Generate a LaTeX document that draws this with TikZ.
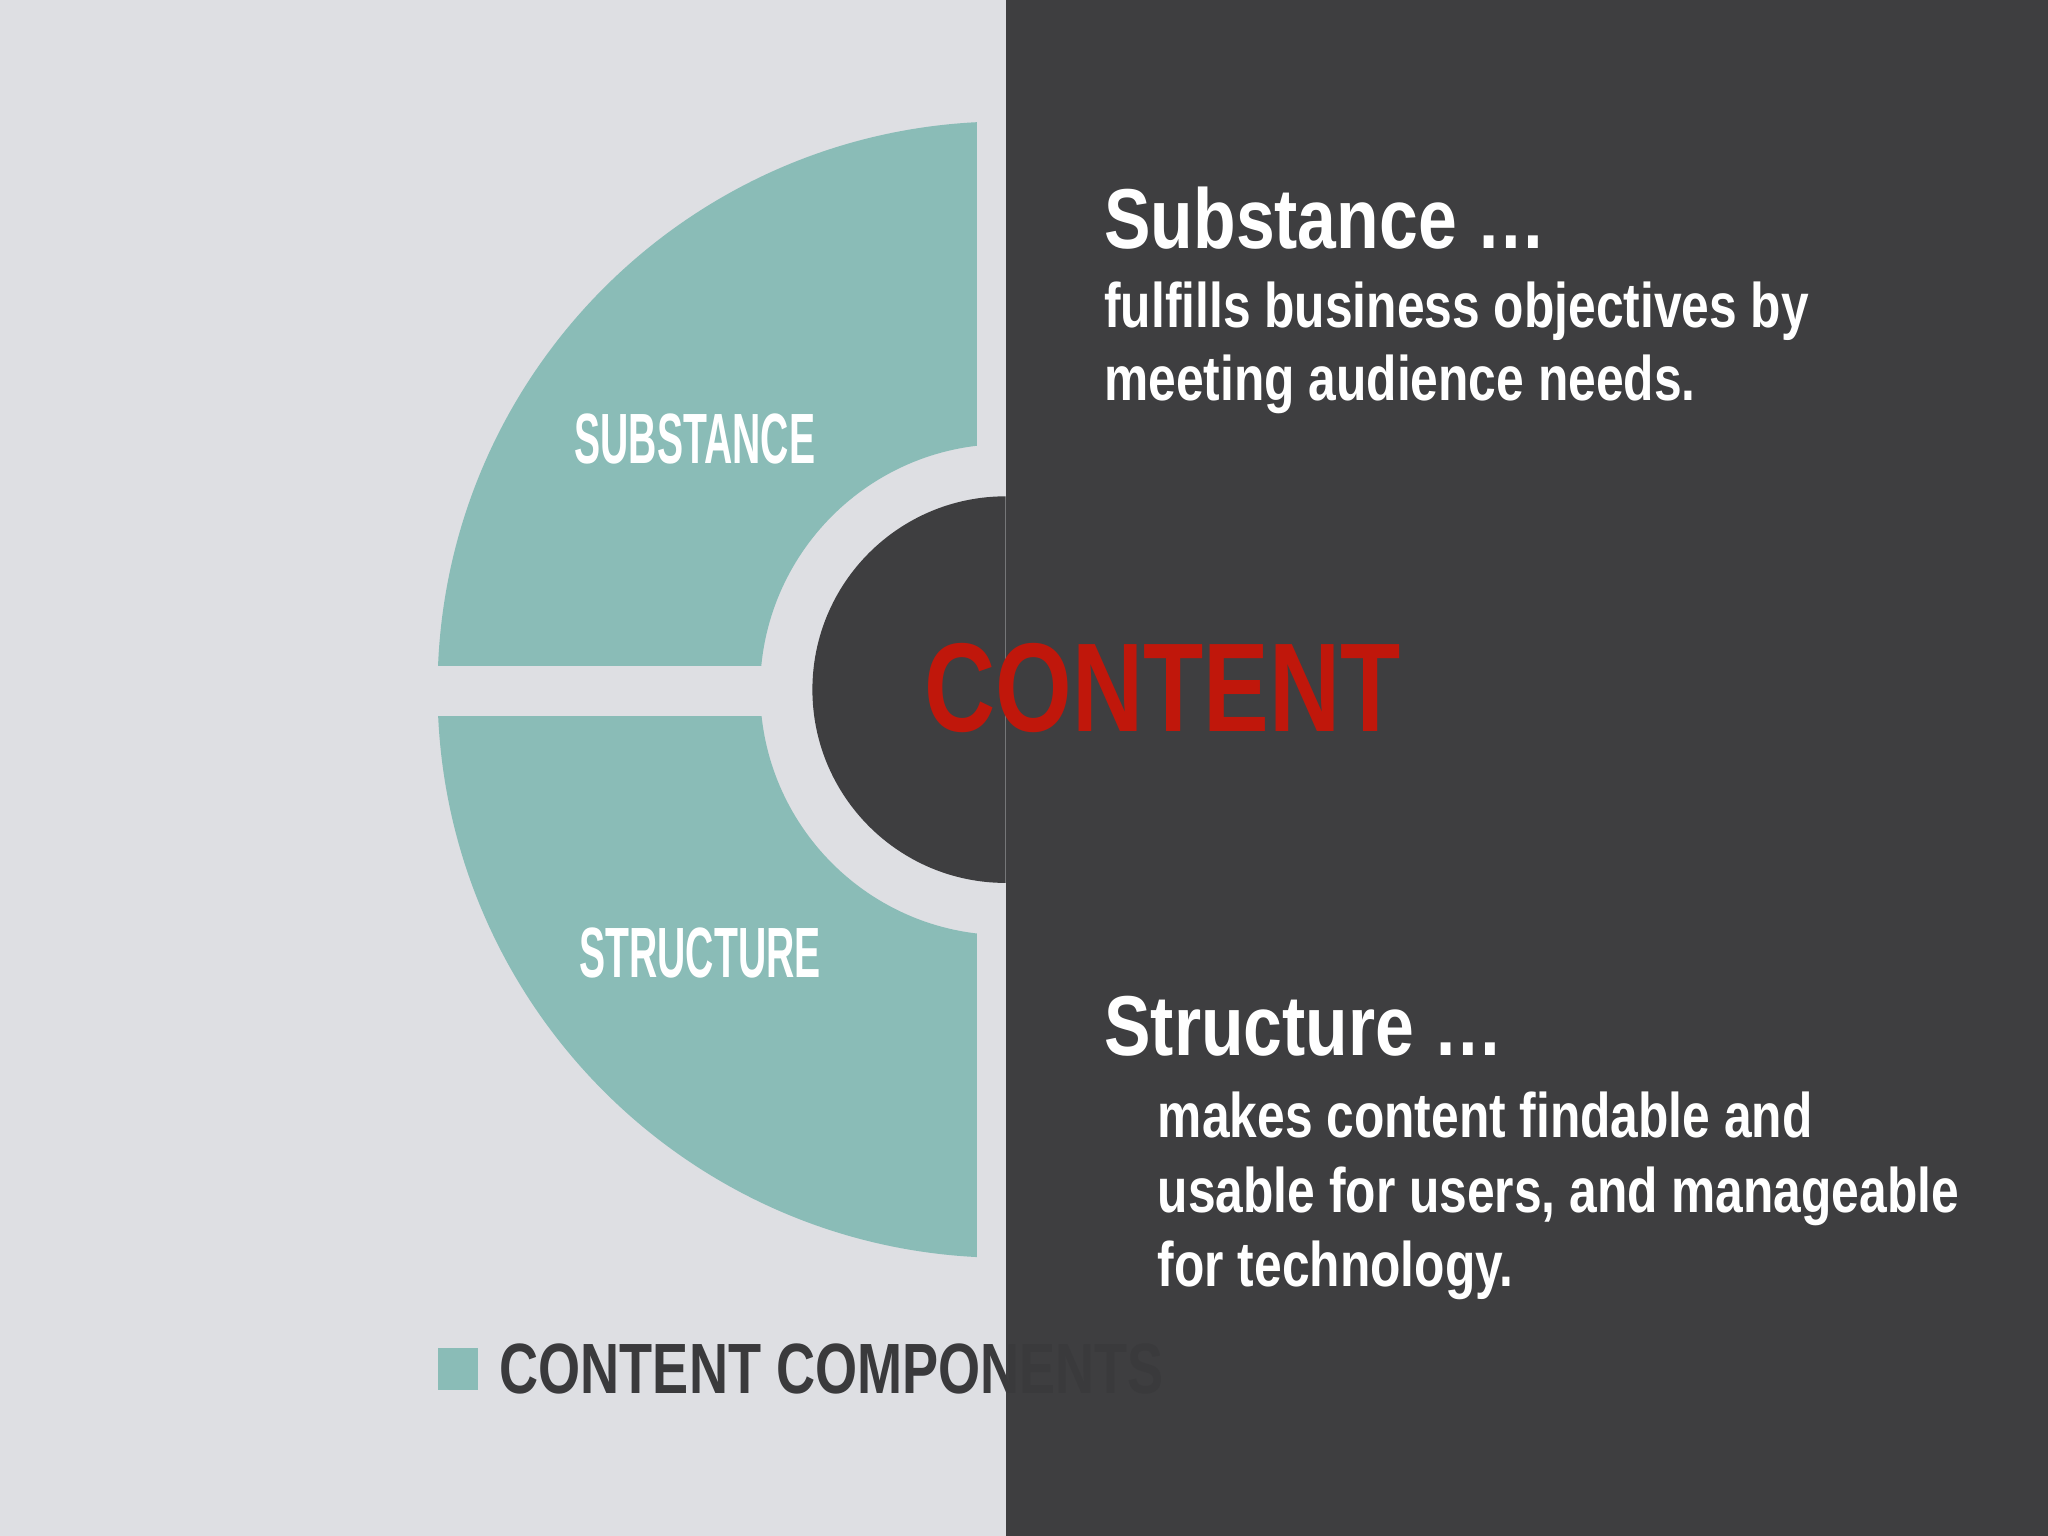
\documentclass[tikz,border=0pt]{standalone}
\usepackage{fontspec}
\setmainfont{Liberation Sans}
\definecolor{lightbg}{HTML}{DEDFE3}
\definecolor{darkbg}{HTML}{3E3E40}
\definecolor{teal1}{HTML}{8ABCB7}
\definecolor{redc}{HTML}{C0170B}
\definecolor{legtext}{HTML}{3A3A3C}
\begin{document}
\begin{tikzpicture}[x=0.01cm,y=-0.01cm,
  lbl/.style={font=\bfseries\fontsize{15.5}{18}\selectfont,text=white,inner sep=0,xscale=0.55},
  head/.style={font=\bfseries\fontsize{18.5}{22}\selectfont,text=white,anchor=base west,inner sep=0,xscale=0.82},
  body/.style={font=\bfseries\fontsize{13.7}{15.9}\selectfont,text=white,anchor=base west,inner sep=0,xscale=0.79}]
\useasboundingbox (0,0) rectangle (1568,1176);
\fill[lightbg] (0,0) rectangle (770,1176);
\fill[darkbg] (770,0) rectangle (1568,1176);
% teal ring (left half)
\fill[teal1] (770,93) arc[start angle=-90,end angle=-270,radius=435] -- (770,716) arc[start angle=90,end angle=270,radius=188] -- cycle;
\fill[lightbg] (748,80) rectangle (770,980);
\fill[lightbg] (320,510) rectangle (600,548);
\fill[darkbg] (770,380) arc[start angle=-90,end angle=-270,radius=148] -- cycle;
\node[lbl] (sub) at (532,336) {SUBSTANCE};
\node[lbl] (str) at (536,730) {STRUCTURE};
\node[font=\bfseries\fontsize{27.5}{30}\selectfont,text=redc,inner sep=0,xscale=0.78] (content) at (890,527) {CONTENT};
\fill[teal1] (335,1032) rectangle (366,1064);
\node[lbl,text=legtext,anchor=west,xscale=0.76/0.55] (leg) at (382,1048) {CONTENT COMPONENTS};
\node[head] (h1) at (845,190) {Substance \dots};
\node[body] (b1) at (845,251) {fulfills business objectives by};
\node[body] (b2) at (845,307) {meeting audience needs.};
\node[head] (h2) at (845,808) {Structure \dots};
\node[body] (c1) at (886,871) {makes content findable and};
\node[body] (c2) at (886,928) {usable for users, and manageable};
\node[body] (c3) at (886,985) {for technology.};
\end{tikzpicture}
\end{document}
